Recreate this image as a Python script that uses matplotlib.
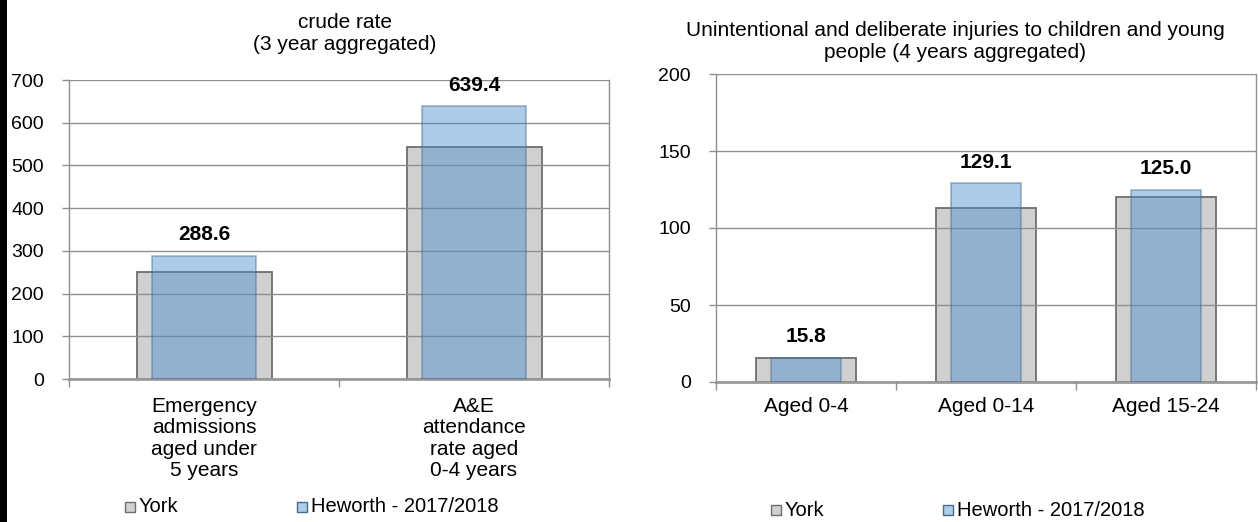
import matplotlib
matplotlib.use("Agg")
import matplotlib.pyplot as plt
from matplotlib.patches import Rectangle
import numpy as np

plt.rcParams['font.family'] = ['Liberation Sans', 'DejaVu Sans']

# Left chart data
left_title = "crude rate\n(3 year aggregated)"
left_categories = ["Emergency\nadmissions\naged under\n5 years", "A&E\nattendance\nrate aged\n0-4 years"]
left_york = [250, 544]
left_heworth = [288.6, 639.4]
left_yticks = [0, 100, 200, 300, 400, 500, 600, 700]

# Right chart data
right_title = "Unintentional and deliberate injuries to children and young\npeople (4 years aggregated)"
right_categories = ["Aged 0-4", "Aged 0-14", "Aged 15-24"]
right_york = [15.6, 113.2, 120.0]
right_heworth = [15.8, 129.1, 125.0]
right_yticks = [0, 50, 100, 150, 200]

series_names = ["York", "Heworth - 2017/2018"]

W, H = 1258, 522
fig = plt.figure(figsize=(W / 100, H / 100), dpi=100)
fig.patches.append(Rectangle((0, 0), 7 / W, 1, transform=fig.transFigure,
                             facecolor='black', edgecolor='none'))

GRAY = '#d0d0d0'
GRAY_EDGE = '#6e6e6e'
BLUE = '#4a8bcc'
BLUE_EDGE = '#4a6a8a'
GRID = '#8f8f8f'
FS = 14.5


def panel(rect_px, cats, york, hew, yticks, title, title_xy, york_w, hew_w, xpad):
    l, t, w, h = rect_px
    ax = fig.add_axes([l / W, (H - t - h) / H, w / W, h / H])
    x = np.arange(len(cats))
    ax.bar(x, york, width=york_w, color=GRAY, edgecolor=GRAY_EDGE, linewidth=1.3, zorder=2)
    ax.bar(x, hew, width=hew_w, color=BLUE, alpha=0.45, edgecolor=BLUE_EDGE, linewidth=1.3, zorder=3)
    ymax = yticks[-1]
    for xi, v in zip(x, hew):
        ax.annotate(f"{v:.1f}", (xi, v), xytext=(0, 15), textcoords='offset points',
                    ha='center', va='center', fontsize=15, fontweight='bold', zorder=5)
    ax.set_xlim(-0.5, len(cats) - 0.5)
    ax.set_ylim(0, ymax)
    ax.set_yticks(yticks)
    ax.set_yticklabels([str(t) for t in yticks], fontsize=14)
    ax.set_xticks(x)
    ax.set_xticklabels(cats, fontsize=15, linespacing=1.15)
    ax.set_xticks(np.arange(len(cats) + 1) - 0.5, minor=True)
    ax.tick_params(axis='x', which='major', length=0, pad=xpad)
    ax.tick_params(axis='x', which='minor', length=6, color=GRID, width=1)
    ax.tick_params(axis='y', length=5, color=GRID, width=1, pad=13)
    ax.set_axisbelow(False)
    ax.grid(axis='y', color=GRID, linewidth=1)
    ax.spines['top'].set_visible(False)
    for s in ['left', 'right', 'bottom']:
        ax.spines[s].set_color(GRID)
        ax.spines[s].set_linewidth(1)
    ax.spines['bottom'].set_color('#9a9a9a')
    ax.spines['bottom'].set_linewidth(2)
    fig.text(title_xy[0] / W, 1 - title_xy[1] / H, title, ha='center', va='center',
             fontsize=15, linespacing=1.2)
    return ax


panel((69, 80, 540, 299), left_categories, left_york, left_heworth, left_yticks,
      left_title, (345, 33), 0.5, 0.385, 13)
panel((716, 74, 540, 308), right_categories, right_york, right_heworth, right_yticks,
      right_title, (955, 41), 0.556, 0.386, 10.5)


def legend(x_york, x_hew, y):
    for xp, name, fc, ec in [(x_york, series_names[0], GRAY, GRAY_EDGE),
                             (x_hew, series_names[1], '#afcce9', BLUE_EDGE)]:
        fig.patches.append(Rectangle((xp / W, 1 - (y + 5) / H), 10 / W, 10 / H,
                                     transform=fig.transFigure, facecolor=fc, edgecolor=ec, lw=1))
        fig.text((xp + 14) / W, 1 - y / H, name, ha='left', va='center', fontsize=FS)


legend(125, 297, 507)
legend(771, 943, 510)

fig.savefig("out.png", dpi=100)
